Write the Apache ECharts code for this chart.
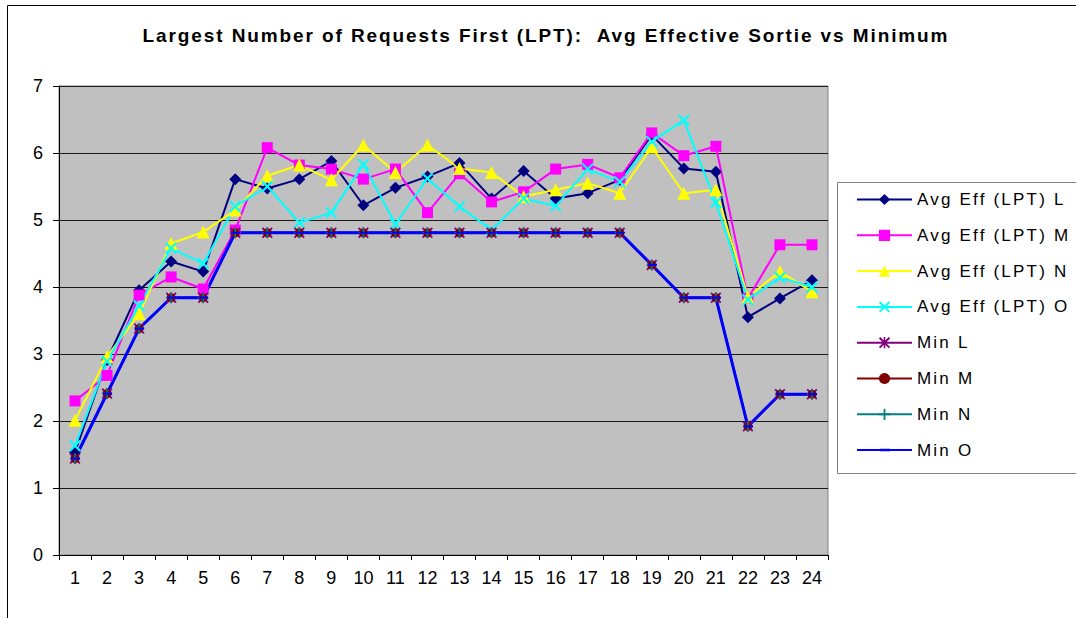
<!DOCTYPE html>
<html>
<head>
<meta charset="utf-8">
<script src="https://cdn.jsdelivr.net/npm/echarts@6/dist/echarts.min.js"></script>
<style>
html,body{margin:0;padding:0;background:#fff;}
#main{width:1076px;height:618px;}
</style>
</head>
<body>
<div id="main"></div>
<script>
var categories = ['1','2','3','4','5','6','7','8','9','10','11','12','13','14','15','16','17','18','19','20','21','22','23','24'];
var yTicks = [0,1,2,3,4,5,6,7];
var avgL = [1.53, 2.91, 3.95, 4.38, 4.23, 5.61, 5.47, 5.61, 5.88, 5.22, 5.48, 5.65, 5.85, 5.32, 5.73, 5.32, 5.40, 5.60, 6.27, 5.77, 5.72, 3.55, 3.83, 4.10];
var avgM = [2.30, 2.68, 3.88, 4.15, 3.97, 4.85, 6.08, 5.82, 5.76, 5.61, 5.76, 5.11, 5.69, 5.27, 5.42, 5.76, 5.83, 5.63, 6.30, 5.96, 6.10, 3.83, 4.63, 4.63];
var avgN = [2.01, 2.96, 3.60, 4.65, 4.82, 5.15, 5.66, 5.82, 5.60, 6.12, 5.71, 6.12, 5.77, 5.71, 5.35, 5.45, 5.55, 5.40, 6.09, 5.40, 5.45, 3.85, 4.23, 3.93];
var avgO = [1.63, 2.89, 3.72, 4.58, 4.35, 5.20, 5.50, 4.96, 5.11, 5.83, 4.94, 5.62, 5.20, 4.85, 5.32, 5.21, 5.76, 5.57, 6.17, 6.49, 5.26, 3.81, 4.14, 4.00];
var minL = [1.44, 2.41, 3.38, 3.84, 3.84, 4.81, 4.81, 4.81, 4.81, 4.81, 4.81, 4.81, 4.81, 4.81, 4.81, 4.81, 4.81, 4.81, 4.33, 3.84, 3.84, 1.92, 2.40, 2.40];
var minM = [1.44, 2.41, 3.38, 3.84, 3.84, 4.81, 4.81, 4.81, 4.81, 4.81, 4.81, 4.81, 4.81, 4.81, 4.81, 4.81, 4.81, 4.81, 4.33, 3.84, 3.84, 1.92, 2.40, 2.40];
var minN = [1.44, 2.41, 3.38, 3.84, 3.84, 4.81, 4.81, 4.81, 4.81, 4.81, 4.81, 4.81, 4.81, 4.81, 4.81, 4.81, 4.81, 4.81, 4.33, 3.84, 3.84, 1.92, 2.40, 2.40];
var minO = [1.44, 2.41, 3.38, 3.84, 3.84, 4.81, 4.81, 4.81, 4.81, 4.81, 4.81, 4.81, 4.81, 4.81, 4.81, 4.81, 4.81, 4.81, 4.33, 3.84, 3.84, 1.92, 2.40, 2.40];
var seriesNames = ['Avg Eff (LPT) L','Avg Eff (LPT) M','Avg Eff (LPT) N','Avg Eff (LPT) O','Min L','Min M','Min N','Min O'];
var titleText = 'Largest Number of Requests First (LPT):  Avg Effective Sortie vs Minimum';

var FONT = '"Liberation Sans", Arial, sans-serif';
var X_PATH = 'path://M0,1.2L1.2,0L5,3.8L8.8,0L10,1.2L6.2,5L10,8.8L8.8,10L5,6.2L1.2,10L0,8.8L3.8,5Z';
var AST_PATH = 'path://M0,1.2L1.2,0L5,3.8L8.8,0L10,1.2L6.2,5L10,8.8L8.8,10L5,6.2L1.2,10L0,8.8L3.8,5Z M4.3,0H5.7V10H4.3Z';
var PLUS_PATH = 'path://M4.2,0H5.8V4.2H10V5.8H5.8V10H4.2V5.8H0V4.2H4.2Z';
// dash with tiny corner specks so the symbol box stays square
var DASH_PATH = 'path://M1,3.9H10V6.1H1Z M0,0L0.01,0L0,0.01Z M10,10L9.99,10L10,9.99Z';

function mk(name, data, color, symbol, size, width) {
  return {
    name: name, type: 'line', data: data,
    symbol: symbol, symbolSize: size, symbolKeepAspect: true,
    lineStyle: {color: color, width: width},
    itemStyle: {color: color, borderWidth: 0},
    emphasis: {disabled: true},
    z: 2
  };
}

var chart = echarts.init(document.getElementById('main'), null, {renderer: 'svg'});
var option = {
  animation: false,
  backgroundColor: '#ffffff',
  title: {
    text: titleText, left: 546, top: 26, padding: 0, textAlign: 'center',
    textStyle: {fontFamily: FONT, fontSize: 19, fontWeight: 'bold', color: '#000'}
  },
  legend: {
    orient: 'vertical', left: 856, top: 191, padding: 0,
    itemWidth: 55, itemHeight: 14, itemGap: 18.8,
    symbolKeepAspect: true,
    data: seriesNames,
    textStyle: {fontFamily: FONT, fontSize: 17, color: '#000'},
    selectedMode: false
  },
  grid: {
    left: 59, right: 248, top: 86, bottom: 63,
    show: true, backgroundColor: '#c0c0c0', borderColor: '#808080', borderWidth: 1
  },
  xAxis: {
    type: 'category', data: categories, boundaryGap: true,
    axisLine: {lineStyle: {color: '#000', width: 1}},
    axisTick: {show: true, length: 5, lineStyle: {color: '#000'}},
    axisLabel: {fontFamily: FONT, fontSize: 18, color: '#000', margin: 14}
  },
  yAxis: {
    type: 'value', min: yTicks[0], max: yTicks[yTicks.length - 1], interval: 1,
    axisLine: {show: true, lineStyle: {color: '#000', width: 1}},
    axisTick: {show: true, length: 6, lineStyle: {color: '#000'}},
    splitLine: {show: true, lineStyle: {color: '#1a1a1a', width: 1}},
    axisLabel: {fontFamily: FONT, fontSize: 18, color: '#000', margin: 16}
  },
  graphic: [
    {type: 'rect', shape: {x: 7.5, y: 5.5, width: 1200, height: 800}, style: {fill: 'none', stroke: '#000', lineWidth: 1}, silent: true, z: 100},
    {type: 'rect', shape: {x: 837.5, y: 182.5, width: 400, height: 291}, style: {fill: 'none', stroke: '#808080', lineWidth: 1}, silent: true, z: 100}
  ],
  series: [
    mk(seriesNames[0], avgL, '#000080', 'diamond', 12, 2),
    mk(seriesNames[1], avgM, '#ff00ff', 'rect', 11, 2),
    mk(seriesNames[2], avgN, '#ffff00', 'triangle', 13, 2),
    mk(seriesNames[3], avgO, '#00ffff', X_PATH, 12, 2),
    mk(seriesNames[4], minL, '#800080', AST_PATH, 11, 2),
    mk(seriesNames[5], minM, '#800000', 'circle', 9, 2),
    mk(seriesNames[6], minN, '#008080', PLUS_PATH, 10, 2),
    mk(seriesNames[7], minO, '#0000ff', DASH_PATH, 10, 3)
  ]
};

function applySpacing() {
  var texts = document.querySelectorAll('#main svg text');
  for (var i = 0; i < texts.length; i++) {
    var t = texts[i].textContent || '';
    var s = null;
    if (t === titleText) s = '1.9';
    else if (seriesNames.indexOf(t) >= 0) s = '2.2';
    if (s) {
      texts[i].setAttribute('letter-spacing', s);
      texts[i].style.letterSpacing = s + 'px';
    }
  }
}
chart.on('finished', applySpacing);
chart.setOption(option);
setTimeout(applySpacing, 50);
</script>
</body>
</html>
